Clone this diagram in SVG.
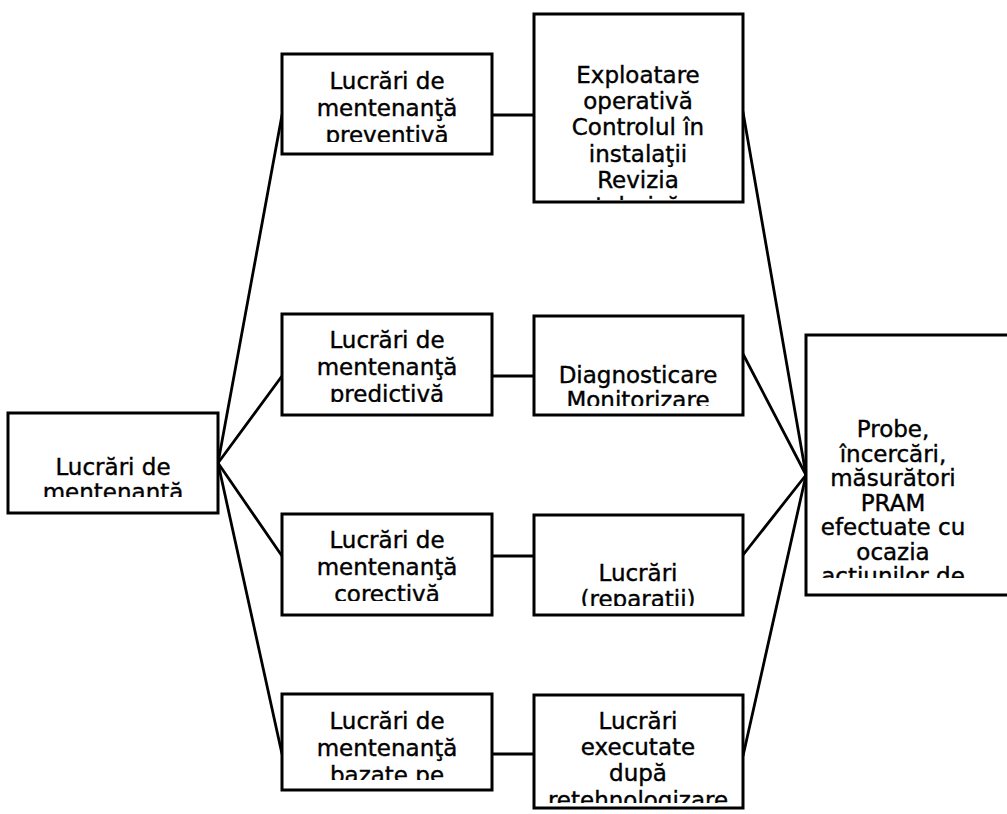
<svg xmlns="http://www.w3.org/2000/svg" width="1007" height="814" viewBox="0 0 1007 814">
  <style>
    .box { fill: #ffffff; stroke: #000000; stroke-width: 3; }
    .lbl { font-family: "DejaVu Sans", Verdana, "Liberation Sans", sans-serif; font-size: 23px; fill: #000000; stroke: #000000; stroke-width: 0.4; text-anchor: middle; }
    .wire { stroke: #000000; stroke-width: 2.8; fill: none; stroke-linecap: round; }
  </style>
  <defs>
    <!-- text frames: the last line of each block runs past its frame and is cut -->
    <clipPath id="c-root"><rect x="10" y="415" width="206" height="82"/></clipPath>
    <clipPath id="c-prev"><rect x="284" y="56" width="206" height="86"/></clipPath>
    <clipPath id="c-expl"><rect x="536" y="16" width="205" height="184"/></clipPath>
    <clipPath id="c-pred"><rect x="284" y="316" width="206" height="86"/></clipPath>
    <clipPath id="c-diag"><rect x="536" y="318" width="205" height="88"/></clipPath>
    <clipPath id="c-cor"><rect x="284" y="516" width="206" height="85"/></clipPath>
    <clipPath id="c-rep"><rect x="536" y="517" width="205" height="89"/></clipPath>
    <clipPath id="c-baz"><rect x="284" y="696" width="206" height="84"/></clipPath>
    <clipPath id="c-ret"><rect x="536" y="697" width="205" height="106"/></clipPath>
    <clipPath id="c-pram"><rect x="808" y="337" width="200" height="241"/></clipPath>
  </defs>

  <rect width="1007" height="814" fill="#ffffff"/>

  <!-- connectors -->
  <g id="connectors">
    <line class="wire" x1="218" y1="463" x2="282" y2="115"/>
    <line class="wire" x1="218" y1="463" x2="282" y2="376"/>
    <line class="wire" x1="218" y1="463" x2="282" y2="556"/>
    <line class="wire" x1="218" y1="463" x2="282" y2="754"/>
    <line class="wire" x1="492" y1="115" x2="534" y2="115"/>
    <line class="wire" x1="492" y1="376" x2="534" y2="376"/>
    <line class="wire" x1="492" y1="556" x2="534" y2="556"/>
    <line class="wire" x1="492" y1="754" x2="534" y2="754"/>
    <line class="wire" x1="743" y1="112" x2="806" y2="475"/>
    <line class="wire" x1="743" y1="354" x2="806" y2="475"/>
    <line class="wire" x1="743" y1="555" x2="806" y2="475"/>
    <line class="wire" x1="743" y1="756" x2="806" y2="475"/>
  </g>

  <g id="root">
    <rect class="box" x="8" y="413" width="210" height="100"/>
    <text class="lbl" clip-path="url(#c-root)"><tspan x="113" y="475">Lucrări de</tspan><tspan x="113" y="500">mentenanţă</tspan></text>
  </g>

  <g id="preventiva">
    <rect class="box" x="282" y="54" width="210" height="100"/>
    <text class="lbl" clip-path="url(#c-prev)"><tspan x="387" y="89">Lucrări de</tspan><tspan x="387" y="116">mentenanţă</tspan><tspan x="387" y="143">preventivă</tspan></text>
  </g>

  <g id="exploatare">
    <rect class="box" x="534" y="14" width="209" height="188"/>
    <text class="lbl" clip-path="url(#c-expl)"><tspan x="638" y="83">Exploatare</tspan><tspan x="638" y="109">operativă</tspan><tspan x="638" y="135">Controlul în</tspan><tspan x="638" y="162">instalaţii</tspan><tspan x="638" y="188">Revizia</tspan><tspan x="638" y="214">tehnică</tspan></text>
  </g>

  <g id="predictiva">
    <rect class="box" x="282" y="314" width="210" height="101"/>
    <text class="lbl" clip-path="url(#c-pred)"><tspan x="387" y="348">Lucrări de</tspan><tspan x="387" y="375">mentenanţă</tspan><tspan x="387" y="402">predictivă</tspan></text>
  </g>

  <g id="diagnosticare">
    <rect class="box" x="534" y="316" width="209" height="99"/>
    <text class="lbl" clip-path="url(#c-diag)"><tspan x="638" y="383">Diagnosticare</tspan><tspan x="638" y="408">Monitorizare</tspan></text>
  </g>

  <g id="corectiva">
    <rect class="box" x="282" y="514" width="210" height="101"/>
    <text class="lbl" clip-path="url(#c-cor)"><tspan x="387" y="548">Lucrări de</tspan><tspan x="387" y="575">mentenanţă</tspan><tspan x="387" y="602">corectivă</tspan></text>
  </g>

  <g id="reparatii">
    <rect class="box" x="534" y="515" width="209" height="100"/>
    <text class="lbl" clip-path="url(#c-rep)"><tspan x="638" y="581">Lucrări</tspan><tspan x="638" y="607">(reparaţii)</tspan></text>
  </g>

  <g id="bazate">
    <rect class="box" x="282" y="694" width="210" height="96"/>
    <text class="lbl" clip-path="url(#c-baz)"><tspan x="387" y="729">Lucrări de</tspan><tspan x="387" y="756">mentenanţă</tspan><tspan x="387" y="783">bazate pe</tspan></text>
  </g>

  <g id="retehnologizare">
    <rect class="box" x="534" y="695" width="209" height="113"/>
    <text class="lbl" clip-path="url(#c-ret)"><tspan x="638" y="729">Lucrări</tspan><tspan x="638" y="755">executate</tspan><tspan x="638" y="781">după</tspan><tspan x="638" y="808">retehnologizare</tspan></text>
  </g>

  <g id="pram">
    <rect class="box" x="806" y="335" width="210" height="260"/>
    <text class="lbl" clip-path="url(#c-pram)"><tspan x="893" y="437">Probe,</tspan><tspan x="893" y="461.5">încercări,</tspan><tspan x="893" y="486">măsurători</tspan><tspan x="893" y="510.5">PRAM</tspan><tspan x="893" y="535">efectuate cu</tspan><tspan x="893" y="559.5">ocazia</tspan><tspan x="893" y="584">acţiunilor de</tspan></text>
  </g>
</svg>
